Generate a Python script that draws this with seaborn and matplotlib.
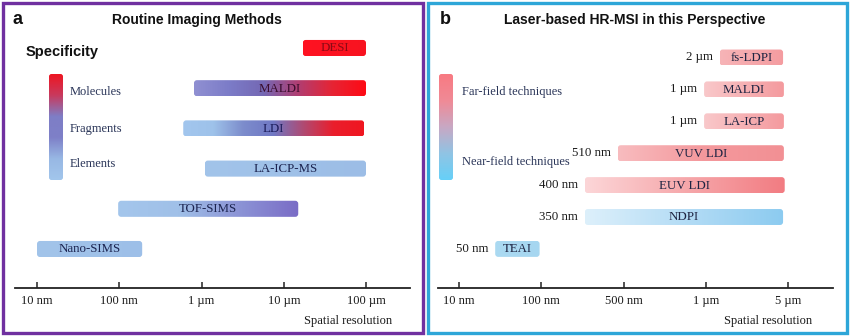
import numpy as np
import matplotlib
matplotlib.use("Agg")
import matplotlib.pyplot as plt
from matplotlib.patches import FancyBboxPatch, Rectangle
from matplotlib.transforms import offset_copy
import seaborn as sns

# ---------------- data ----------------
# Panel a: routine imaging methods, resolution range in nm
a_methods = ["DESI", "MALDI", "LDI", "LA-ICP-MS", "TOF-SIMS", "Nano-SIMS"]
a_start_nm = [17000, 810, 600, 1100, 97, 10]
a_end_nm = [100000, 100000, 95000, 100000, 15000, 190]
a_ticks_nm = [10, 100, 1000, 10000, 100000]
a_tick_labels = ["10 nm", "100 nm", "1 µm", "10 µm", "100 µm"]
a_spec_labels = ["Molecules", "Fragments", "Elements"]

# Panel b: laser-based HR-MSI, positions on the (ordinal) resolution axis
b_methods = ["fs-LDPI", "MALDI", "LA-ICP", "VUV LDI", "EUV LDI", "NDPI", "TEAI"]
b_res_labels = ["2 µm", "1 µm", "1 µm", "510 nm", "400 nm", "350 nm", "50 nm"]
b_start = [3.17, 2.98, 2.98, 1.93, 1.53, 1.53, 0.44]
b_end = [3.94, 3.95, 3.95, 3.95, 3.96, 3.94, 0.98]
b_tick_labels = ["10 nm", "100 nm", "500 nm", "1 µm", "5 µm"]
b_field_labels = ["Far-field techniques", "Near-field techniques"]

# ---------------- styles ----------------
a_grad = {
    "DESI": ["#ff1222", "#f81420"],
    "MALDI": ["#9090d2", "#7c7cc8", "#7468b4", "#b03e72", "#e62434", "#ff0a14"],
    "LDI": ["#a2c6ee", "#9ec2ea", "#7c8ccc", "#7078c4", "#b04a72", "#ea1e2c", "#f01620"],
    "LA-ICP-MS": ["#a2c4ea", "#9cbde6"],
    "TOF-SIMS": ["#a4c6ec", "#a0c0e8", "#8c94d6", "#7a6cc6"],
    "Nano-SIMS": ["#a2c4ea", "#9dbfe8"],
}
a_text_col = {"DESI": "#8a0a14", "MALDI": "#3a0c2c", "LDI": "#1c1c5a",
              "LA-ICP-MS": "#1c2450", "TOF-SIMS": "#1c2450", "Nano-SIMS": "#1c2450"}
b_grad = {
    "fs-LDPI": ["#f7b4b7", "#f49ca0"],
    "MALDI": ["#f9c8ca", "#f49a9e"],
    "LA-ICP": ["#f9c8ca", "#f49a9e"],
    "VUV LDI": ["#f8bcbf", "#f4999d", "#f29094"],
    "EUV LDI": ["#fcd6d8", "#f6a8ab", "#f27c82"],
    "NDPI": ["#ddf0fb", "#b4dcf5", "#8ccbf0"],
    "TEAI": ["#abdaf2", "#a6d6f0"],
}

sns.set_theme(style="white")
plt.rcParams["font.family"] = ["Liberation Serif", "DejaVu Serif"]
SANS = ["Liberation Sans", "DejaVu Sans"]

W, H = 850, 336
fig = plt.figure(figsize=(W / 100, H / 100), dpi=100)
fig.patch.set_facecolor("white")

# overlay in pixel coordinates (for layout elements)
ov = fig.add_axes([0, 0, 1, 1], zorder=0)
ov.set_xlim(0, W)
ov.set_ylim(H, 0)
ov.axis("off")
ov.patch.set_alpha(0)


def px_axes(x0, y0, x1, y1):
    return fig.add_axes([x0 / W, 1 - y1 / H, (x1 - x0) / W, (y1 - y0) / H], zorder=1)


def grad_box(host, x0, y0, x1, y1, colors, vertical=False, r=3.0):
    """Rounded gradient rectangle in overlay pixel coordinates, drawn on host."""
    cmap = sns.blend_palette(colors, as_cmap=True)
    patch = FancyBboxPatch((x0, y0), x1 - x0, y1 - y0,
                           boxstyle=f"round,pad=0,rounding_size={r}",
                           transform=ov.transData, facecolor="none",
                           edgecolor="none", zorder=2)
    host.add_patch(patch)
    if vertical:
        g = np.linspace(0, 1, 256)[:, None]
    else:
        g = np.linspace(0, 1, 256)[None, :]
    im = host.imshow(g, cmap=cmap, extent=[x0, x1, y1, y0], origin="upper",
                     transform=ov.transData, aspect="auto",
                     interpolation="bilinear", zorder=2)
    im.set_clip_path(patch)
    return patch


def to_px(ax, x, y):
    return ov.transData.inverted().transform(ax.transData.transform((x, y)))


def style_axis(ax):
    for s in ["top", "left", "right"]:
        ax.spines[s].set_visible(False)
    ax.spines["bottom"].set_color("#222222")
    ax.spines["bottom"].set_linewidth(1.3)
    ax.patch.set_alpha(0)
    ax.set_yticks([])
    ax.tick_params(axis="x", which="major", direction="in", length=4, width=1.2,
                   color="#333333", pad=5, labelsize=9, labelcolor="#1a1a1a",
                   bottom=True)
    ax.tick_params(axis="x", which="minor", bottom=False)
    ax.set_autoscale_on(False)


# ---------------- panel a ----------------
ax_a = px_axes(15, 30, 410, 288)
ax_a.set_xscale("log")
ax_a.set_xlim(10 ** (1 + (15 - 37) / 82.25), 10 ** (1 + (410 - 37) / 82.25))
row0_a, sp_a = 48.0, 40.2
ax_a.set_ylim((288 - row0_a) / sp_a, (30 - row0_a) / sp_a)
style_axis(ax_a)
ax_a.set_xticks(a_ticks_nm)
ax_a.set_xticklabels(a_tick_labels)

bar_h_a = 0.4
for i, m in enumerate(a_methods):
    x0, y0 = to_px(ax_a, a_start_nm[i], i - bar_h_a / 2)
    x1, y1 = to_px(ax_a, a_end_nm[i], i + bar_h_a / 2)
    grad_box(ax_a, x0, y0, x1, y1, a_grad[m])
    ax_a.text((x0 + x1) / 2, (y0 + y1) / 2 + 0.5, m, transform=ov.transData,
              ha="center", va="center", fontsize=9.3, color=a_text_col[m], zorder=3)

ov.text(392, 321, "Spatial resolution", ha="right", va="center", fontsize=9,
        color="#1a1a1a")
ov.text(18, 20, "a", ha="center", va="center", fontsize=13,
        fontweight="bold", family=SANS, color="#111111")
ov.text(197, 20, "Routine Imaging Methods", ha="center", va="center",
        fontsize=10, fontweight="bold", family=SANS, color="#111111")
ov.text(26, 52, "Specificity", ha="left", va="center", fontsize=10.5,
        fontweight="bold", family=SANS, color="#111111")
grad_box(ov, 49, 74, 63, 180, ["#ee1622", "#c83a5e", "#7e7ec6", "#7e80c8", "#98b8e4", "#a2c6ec"],
         vertical=True, r=2.5)
for lab, y in zip(a_spec_labels, [92, 129, 164]):
    ov.text(70, y, lab, ha="left", va="center", fontsize=9, color="#2a3558")

# ---------------- panel b ----------------
ax_b = px_axes(438, 30, 833, 288)
ax_b.set_xlim((438 - 459) / 82.25, (833 - 459) / 82.25)
row0_b, sp_b = 57.5, 31.9
ax_b.set_ylim((288 - row0_b) / sp_b, (30 - row0_b) / sp_b)
style_axis(ax_b)
ax_b.set_xticks(range(len(b_tick_labels)))
ax_b.set_xticklabels(b_tick_labels)

bar_h_b = 0.5
lab_tr = offset_copy(ax_b.transData, fig=fig, x=-7, y=0, units="dots")
for i, m in enumerate(b_methods):
    x0, y0 = to_px(ax_b, b_start[i], i - bar_h_b / 2)
    x1, y1 = to_px(ax_b, b_end[i], i + bar_h_b / 2)
    grad_box(ax_b, x0, y0, x1, y1, b_grad[m])
    ax_b.text((x0 + x1) / 2, (y0 + y1) / 2 + 0.5, m, transform=ov.transData,
              ha="center", va="center", fontsize=9.3, color="#1e2442", zorder=3)
    ax_b.text(b_start[i], i, b_res_labels[i], transform=lab_tr, ha="right",
              va="center", fontsize=9.3, color="#1a1a1a", zorder=3)

ov.text(812, 321, "Spatial resolution", ha="right", va="center", fontsize=9,
        color="#1a1a1a")
ov.text(445, 20, "b", ha="center", va="center", fontsize=13,
        fontweight="bold", family=SANS, color="#111111")
ov.text(635, 20, "Laser-based HR-MSI in this Perspective", ha="center",
        va="center", fontsize=10, fontweight="bold", family=SANS, color="#111111")
grad_box(ov, 439, 74, 453, 180, ["#f87a82", "#f08a96", "#c8a8c4", "#90c4e4", "#66d0f8"],
         vertical=True, r=2.5)
for lab, y in zip(b_field_labels, [92, 162]):
    ov.text(462, y, lab, ha="left", va="center", fontsize=9, color="#2a3558")

# ---------------- panel borders ----------------
ov.add_patch(Rectangle((3, 3), 420, 330, fill=False, edgecolor="#7030a0",
                       linewidth=2.4, zorder=5))
ov.add_patch(Rectangle((428, 3), 419, 330, fill=False, edgecolor="#2ea6d8",
                       linewidth=2.4, zorder=5))

fig.savefig("out.png", dpi=100)
